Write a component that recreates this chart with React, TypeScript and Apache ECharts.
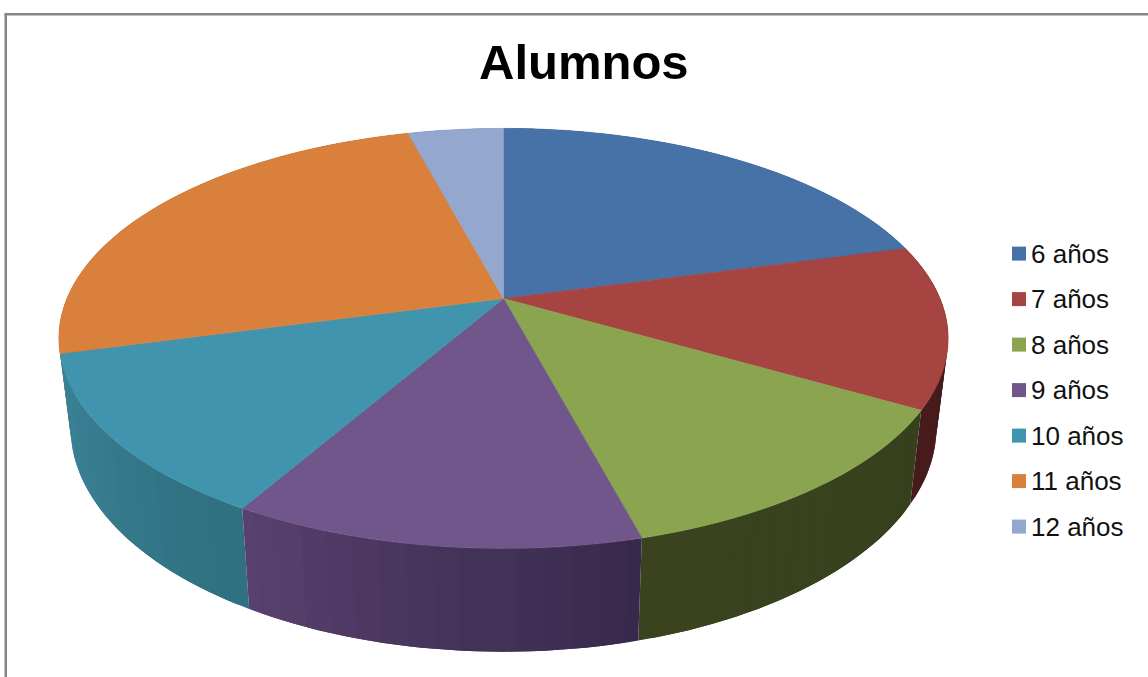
import React, { useEffect, useRef } from "react";
import * as echarts from "echarts";

const categories = ["6 años", "7 años", "8 años", "9 años", "10 años", "11 años", "12 años"];
const alumnos = [5, 3, 3, 3, 3, 6, 1];
const titleText = "Alumnos";

const topColors = ["#4672A8", "#A64442", "#8AA44F", "#70568B", "#4094AD", "#D9813C", "#93A7CF"];
// Side-wall shade at the left and at the right end of each slice's wall.
const wallColors = [
  ["#34547C", "#34547C"],
  ["#471B1B", "#471B1B"],
  ["#3A431E", "#37401D"],
  ["#5A4270", "#36284A"],
  ["#3C8399", "#2F707F"],
  ["#A05F2C", "#A05F2C"],
  ["#6C7C99", "#6C7C99"],
];

const total = alumnos.reduce((s, v) => s + v, 0);
const startAngle = (i: number) =>
  (alumnos.slice(0, i).reduce((s, v) => s + v, 0) / total) * Math.PI * 2;

// Perspective projection of the round pie: th runs clockwise from the top.
const CX = 503.5;
const CY = 298.5;
const K = 0.19;
const topRim = (th: number) => {
  const X = Math.sin(th);
  const Y = -Math.cos(th);
  const d = 1 - K * Y;
  return [CX + (436.5 * X) / d, CY + (202.4 * Y) / d];
};
const bottomRim = (th: number) => {
  const X = Math.sin(th);
  const Y = -Math.cos(th);
  const d = 1 - K * Y;
  return [CX + (425 * X) / d, 385 + (216 * Y) / d];
};
const arc = (a: number, b: number) => {
  const n = Math.max(2, Math.ceil(Math.abs(b - a) / (Math.PI / 180)));
  const pts: number[][] = [];
  for (let j = 0; j <= n; j++) pts.push(topRim(a + ((b - a) * j) / n));
  return pts;
};

const STRIP = (3 * Math.PI) / 180;

// One slice's wall, as strips painted from back to front. Each strip reaches
// over the next one inside its slice, so that no seam shows between them.
const wallItem = (_p: any, api: any) => {
  const i = api.value(0);
  const a = startAngle(i);
  const b = startAngle(i + 1);
  const n = Math.max(1, Math.round((b - a) / STRIP));
  const children: any[] = [];
  for (let j = 0; j < n; j++) {
    const t0 = a + ((b - a) * j) / n;
    const t1 = a + ((b - a) * (j + 1)) / n;
    const lo = Math.max(a, t0 - STRIP / 2);
    const hi = Math.min(b, t1 + STRIP / 2);
    const color = echarts.color.lerp(1 - (j + 0.5) / n, wallColors[i]);
    const front: number[][] = [];
    const back: number[][] = [];
    for (let s = 0; s <= 4; s++) {
      const t = lo + ((hi - lo) * s) / 4;
      front.push(topRim(t));
      back.unshift(bottomRim(t));
    }
    children.push({
      type: "polygon",
      z2: Math.round(-Math.cos((t0 + t1) / 2) * 1000) + 1000,
      shape: { points: [...front, ...back] },
      style: { fill: color },
    });
  }
  return { type: "group", children };
};

const topItem = (i: number) => () => ({
  type: "polygon",
  shape: { points: [[CX, CY], ...arc(startAngle(i), startAngle(i + 1))] },
  style: { fill: topColors[i], stroke: topColors[i], lineWidth: 0.6 },
});

export default function App() {
  const ref = useRef<HTMLDivElement>(null);
  useEffect(() => {
    if (!ref.current) return;
    const chart = echarts.init(ref.current, undefined, { renderer: "svg" });
    chart.setOption({
      animation: false,
      backgroundColor: "#ffffff",
      title: {
        text: titleText,
        left: 479,
        top: 37,
        padding: 0,
        textStyle: {
          fontFamily: "Liberation Sans",
          fontWeight: "bold",
          fontSize: 49,
          color: "#000000",
        },
      },
      legend: {
        orient: "vertical",
        left: 1012,
        top: 240.6,
        padding: 0,
        icon: "rect",
        itemWidth: 14,
        itemHeight: 14,
        itemGap: 19.5,
        data: categories,
        selectedMode: false,
        textStyle: {
          fontFamily: "Liberation Sans",
          fontSize: 26,
          color: "#111111",
          padding: 0,
        },
      },
      graphic: [
        {
          type: "line",
          silent: true,
          shape: { x1: 5.75, y1: 14, x2: 5.75, y2: 677 },
          style: { stroke: "#868686", lineWidth: 2.5 },
        },
        {
          type: "line",
          silent: true,
          shape: { x1: 4.5, y1: 14.25, x2: 1148, y2: 14.25 },
          style: { stroke: "#868686", lineWidth: 2.5 },
        },
      ],
      series: [
        {
          type: "custom",
          name: "walls",
          coordinateSystem: "none",
          z: 1,
          silent: true,
          data: alumnos.map((_, i) => [i]),
          renderItem: wallItem,
        },
        ...categories.map((name, i) => ({
          type: "custom",
          name,
          coordinateSystem: "none",
          z: 2,
          itemStyle: { color: topColors[i] },
          data: [[alumnos[i]]],
          renderItem: topItem(i),
        })),
      ],
    });
    return () => chart.dispose();
  }, []);
  return (
    <div
      ref={ref}
      style={{ position: "fixed", left: 0, top: 0, width: 1148, height: 677 }}
    />
  );
}
